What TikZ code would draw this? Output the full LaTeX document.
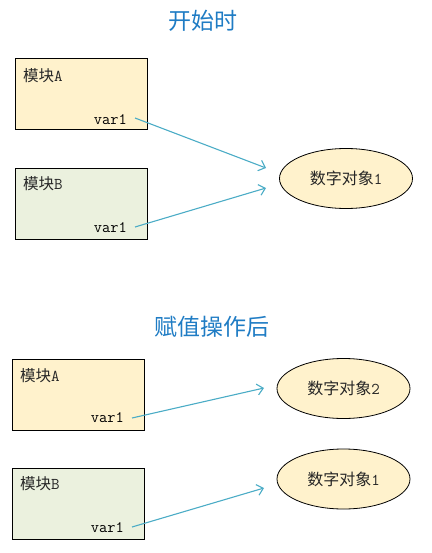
\documentclass[tikz,border=0pt]{standalone}
\usepackage{fontspec}
\newfontfamily\cjk{Noto Sans CJK SC}
\usetikzlibrary{arrows.meta,shapes.geometric}
\definecolor{titleblue}{HTML}{1F7CC4}
\definecolor{boxyellow}{HTML}{FFF2CC}
\definecolor{boxgreen}{HTML}{EBF1DE}
\definecolor{arrowblue}{HTML}{4BACC6}
\newcommand{\lat}[1]{{\ttfamily\fontsize{16.5}{18}\selectfont #1}}
\begin{document}
\begin{tikzpicture}[x=1pt,y=-1pt,
  title/.style={font=\cjk\fontsize{23}{26}\selectfont, text=titleblue},
  modbox/.style={draw=black, line width=0.9pt, minimum width=132pt, minimum height=71pt, anchor=north west, inner sep=0pt},
  modlabel/.style={font=\cjk\fontsize{15.5}{18}\selectfont, anchor=west, inner sep=0pt, text=black!85},
  varlabel/.style={font=\ttfamily\fontsize{16}{18}\selectfont, anchor=east, inner sep=0pt},
  obj/.style={ellipse, draw=black, line width=0.8pt, fill=boxyellow, minimum width=133pt, minimum height=60pt, inner sep=0pt, font=\cjk\fontsize{16}{18}\selectfont, text=black!85},
  ptr/.style={draw=arrowblue, line width=1.1pt, -{Straight Barb[length=6pt,width=11pt,line width=1.1pt]}}]
\useasboundingbox (0,0) rectangle (431,553);
% top panel
\node[title] (t1) at (203,21) {开始时};
\node[modbox, fill=boxyellow] (a1) at (15,58) {};
\node[modbox, fill=boxgreen] (b1) at (15,168) {};
\node[modlabel] (a1l) at (23,76) {模块\lat{A}};
\node[modlabel] (b1l) at (23,184) {模块\lat{B}};
\node[varlabel] (a1v) at (127,120) {var1};
\node[varlabel] (b1v) at (127,228) {var1};
\node[obj] (o1) at (346,178.5) {数字对象\lat{1}};
\coordinate (e1a) at (266,168);
\coordinate (e1b) at (266,188);
\draw[ptr] ([xshift=8pt,yshift=2pt]a1v.east) -- (e1a);
\draw[ptr] ([xshift=8pt,yshift=1pt]b1v.east) -- (e1b);
% bottom panel
\node[title] (t2) at (212,327) {赋值操作后};
\node[modbox, fill=boxyellow] (a2) at (12,359) {};
\node[modbox, fill=boxgreen] (b2) at (12,468) {};
\node[modlabel] (a2l) at (20,376) {模块\lat{A}};
\node[modlabel] (b2l) at (20,484) {模块\lat{B}};
\node[varlabel] (a2v) at (124,418) {var1};
\node[varlabel] (b2v) at (124,528) {var1};
\node[obj] (o2) at (343.5,388.5) {数字对象\lat{2}};
\node[obj] (o3) at (343.5,479) {数字对象\lat{1}};
\coordinate (e2a) at (264,388);
\coordinate (e2b) at (264,488);
\draw[ptr] ([xshift=8pt,yshift=0pt]a2v.east) -- (e2a);
\draw[ptr] ([xshift=8pt,yshift=1pt]b2v.east) -- (e2b);
\end{tikzpicture}
\end{document}
